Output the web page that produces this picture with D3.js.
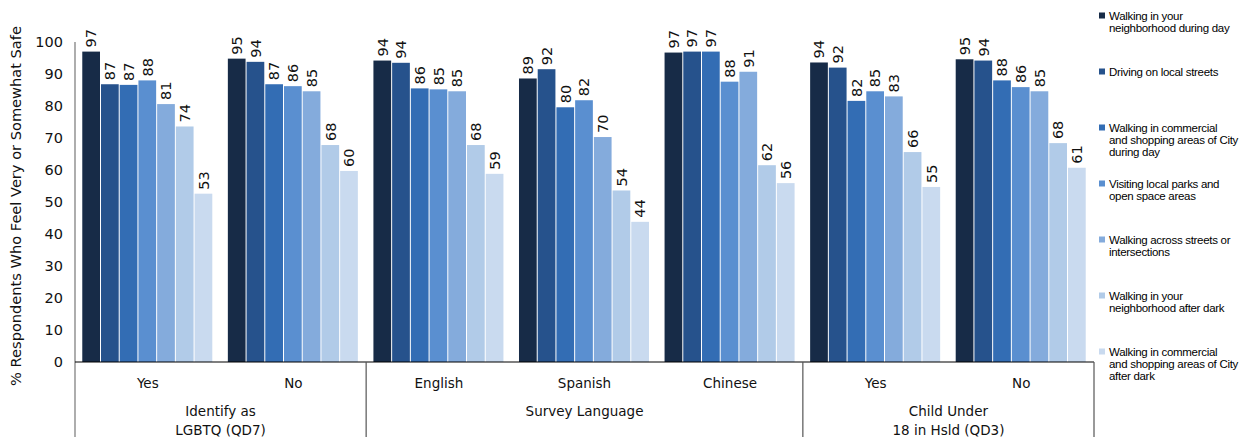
<!DOCTYPE html>
<html>
<head>
<meta charset="utf-8">
<script src="https://cdn.jsdelivr.net/npm/d3@7"></script>
<style>
  html, body { margin: 0; padding: 0; background: #fff; }
  svg { display: block; }
</style>
</head>
<body>
<svg id="chart" width="1247" height="437"></svg>
<script>
// ---- data ----
const columns = ["Yes", "No", "English", "Spanish", "Chinese", "Yes", "No"];
const groupNames = [["Identify as", "LGBTQ (QD7)"], ["Survey Language"], ["Child Under", "18 in Hsld (QD3)"]];
const groupSizes = [2, 3, 2];
const seriesNames = [
  ["Walking in your", "neighborhood during day"],
  ["Driving on local streets"],
  ["Walking in commercial", "and shopping areas of City", "during day"],
  ["Visiting local parks and", "open space areas"],
  ["Walking across streets or", "intersections"],
  ["Walking in your", "neighborhood after dark"],
  ["Walking in commercial", "and shopping areas of City", "after dark"]
];
const walkNeighborhoodDay = [97, 94.8, 94.2, 88.6, 96.7, 93.6, 94.6];
const drivingLocal        = [86.8, 93.8, 93.5, 91.5, 97, 92, 94.2];
const walkCommercialDay   = [86.6, 86.8, 85.5, 79.6, 97, 81.6, 88];
const visitingParks       = [88, 86.2, 85.2, 81.8, 87.6, 84.6, 85.9];
const walkingAcross       = [80.6, 84.6, 84.6, 70.3, 90.7, 83, 84.6];
const walkNeighborhoodDark= [73.6, 67.8, 67.8, 53.6, 61.5, 65.6, 68.4];
const walkCommercialDark  = [52.6, 59.7, 58.8, 43.8, 55.9, 54.7, 60.7];
const series = [walkNeighborhoodDay, drivingLocal, walkCommercialDay, visitingParks,
                walkingAcross, walkNeighborhoodDark, walkCommercialDark];
const yTicks = [0, 10, 20, 30, 40, 50, 60, 70, 80, 90, 100];
const colors = ["#172b47", "#26528c", "#336db4", "#5a8fd0", "#84abdc", "#b1cbe8", "#c9daef"];

// ---- layout ----
const svg = d3.select("#chart");
const plotLeft = 75, plotRight = 1094, plotTop = 42, plotBase = 362, plotBottom = 437;
const font = "'DejaVu Sans', Verdana, sans-serif";

const x = d3.scaleBand().domain(d3.range(columns.length)).range([plotLeft, plotRight])
  .paddingInner(0.1).paddingOuter(0.05);
const sub = d3.scaleBand().domain(d3.range(series.length)).range([0, x.bandwidth()]);
const y = d3.scaleLinear().domain([0, 100]).range([plotBase, plotTop]);

// bars
const seriesG = svg.append("g").selectAll("g").data(series).join("g")
  .attr("fill", (d, i) => colors[i]);
seriesG.each(function (vals, si) {
  const g = d3.select(this);
  g.selectAll("rect").data(vals).join("rect")
    .attr("x", (v, ci) => x(ci) + sub(si))
    .attr("y", v => y(v))
    .attr("width", sub.bandwidth() - 1)
    .attr("height", v => y(0) - y(v));
  g.selectAll("text").data(vals).join("text")
    .attr("transform", (v, ci) => `translate(${x(ci) + sub(si) + sub.bandwidth() / 2 - 0.5},${y(v) - 4}) rotate(-90)`)
    .attr("dy", "0.36em")
    .attr("fill", "#111")
    .style("font-family", font)
    .style("font-size", "14.5px")
    .text(v => Math.round(v));
});

// y axis
const yAxis = d3.axisLeft(y).tickValues(yTicks).tickSize(0).tickPadding(12);
const ya = svg.append("g").attr("transform", `translate(${plotLeft},0)`).call(yAxis);
ya.select(".domain").remove();
ya.selectAll("text").style("font-family", font).style("font-size", "14.5px").attr("fill", "#111");
svg.append("line").attr("x1", plotLeft).attr("x2", plotLeft).attr("y1", plotTop).attr("y2", plotBottom)
  .attr("stroke", "#777").attr("stroke-width", 1.2);

// baseline
svg.append("line").attr("x1", plotLeft).attr("x2", plotRight).attr("y1", plotBase).attr("y2", plotBase)
  .attr("stroke", "#000").attr("stroke-width", 1.2);

// group dividers
let acc = 0;
const boundaries = [0];
groupSizes.forEach(s => { acc += s; boundaries.push(acc); });
const step = x.step();
const bx = i => plotLeft + i * step;
boundaries.slice(1).forEach(b => {
  svg.append("line").attr("x1", bx(b)).attr("x2", bx(b)).attr("y1", plotBase).attr("y2", plotBottom)
    .attr("stroke", "#555").attr("stroke-width", 1.2);
});

// column labels
svg.append("g").selectAll("text").data(columns).join("text")
  .attr("x", (d, i) => x(i) + x.bandwidth() / 2)
  .attr("y", 388)
  .attr("text-anchor", "middle")
  .attr("fill", "#111")
  .style("font-family", font).style("font-size", "13.5px")
  .text(d => d);

// group labels
groupNames.forEach((lines, gi) => {
  const cx = (bx(boundaries[gi]) + bx(boundaries[gi + 1])) / 2;
  lines.forEach((ln, li) => {
    svg.append("text").attr("x", cx).attr("y", 416 + li * 19)
      .attr("text-anchor", "middle").attr("fill", "#111")
      .style("font-family", font).style("font-size", "13.5px")
      .text(ln);
  });
});

// y title
svg.append("text")
  .attr("transform", `translate(16,${(22 + 390) / 2}) rotate(-90)`)
  .attr("text-anchor", "middle").attr("dy", "0.36em")
  .attr("fill", "#111")
  .style("font-family", font).style("font-size", "14.6px")
  .text("% Respondents Who Feel Very or Somewhat Safe");

// legend
const lg = svg.append("g");
seriesNames.forEach((lines, i) => {
  const ly = 16 + i * 56;
  lg.append("rect").attr("x", 1099).attr("y", ly - 3.5).attr("width", 6).attr("height", 6)
    .attr("fill", colors[i]);
  lines.forEach((ln, li) => {
    lg.append("text").attr("x", 1109).attr("y", ly + li * 12).attr("dy", "0.35em")
      .attr("fill", "#000")
      .style("font-family", "'Liberation Sans Narrow', 'Liberation Sans', Arial, sans-serif")
      .style("font-size", "11.5px")
      .style("letter-spacing", "-0.3px")
      .text(ln);
  });
});
</script>
</body>
</html>
